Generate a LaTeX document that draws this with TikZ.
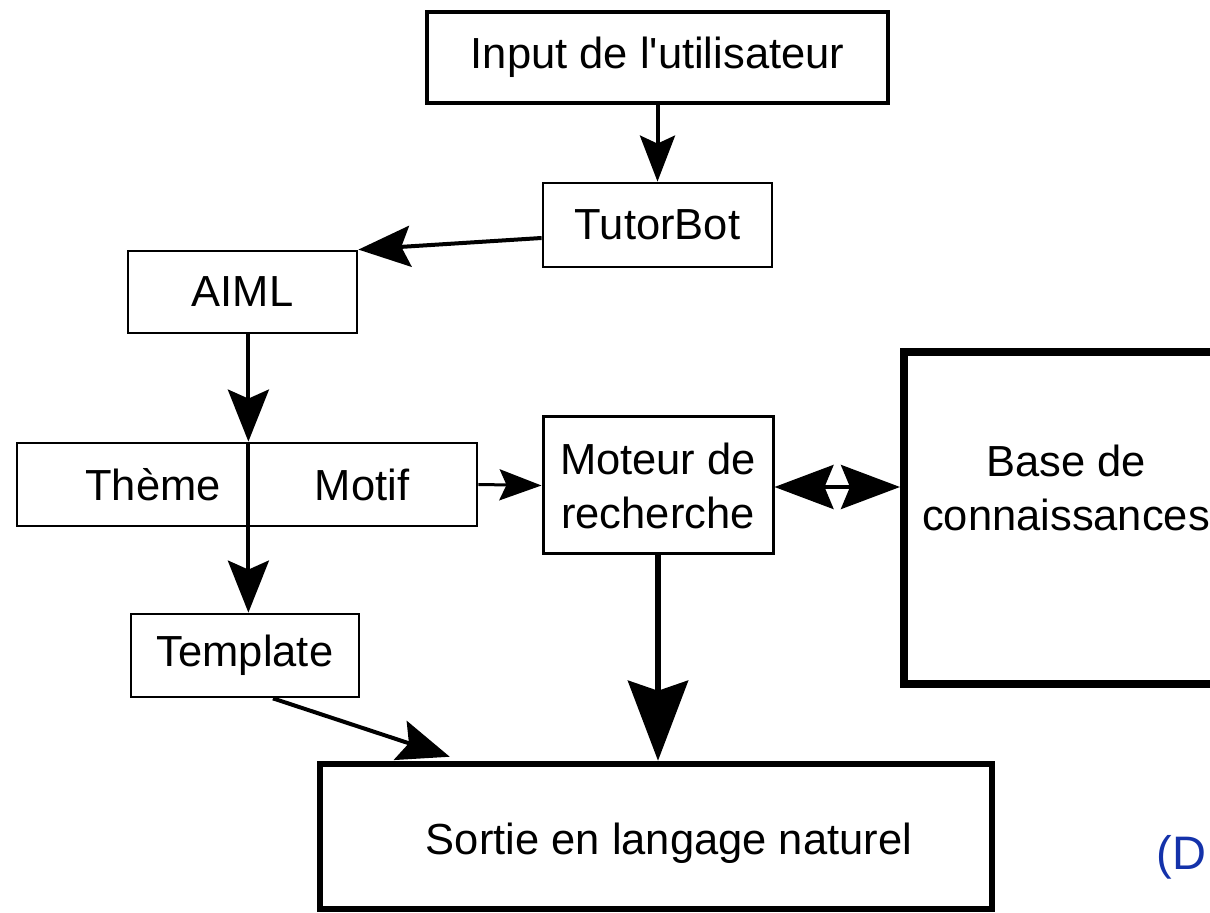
\documentclass[tikz,border=0pt]{standalone}
\usepackage{fontspec}
\setmainfont{Liberation Sans}
\usetikzlibrary{arrows.meta,calc}
\definecolor{refblue}{RGB}{20,50,170}
\begin{document}
\begin{tikzpicture}[x=0.5pt,y=-0.5pt,
  every node/.style={font=\fontsize{21.75pt}{27pt}\selectfont},
  thinbox/.style={draw,rectangle,inner sep=0pt,line width=1.4pt},
  thickbox/.style={draw,rectangle,inner sep=0pt,line width=2.25pt},
  heavybox/.style={draw,rectangle,inner sep=0pt,line width=4pt},
  conn/.style={line width=2pt},
  headS/.style={-{Stealth[length=21pt,width=15.5pt,inset=3.5pt]}},
  headM/.style={-{Stealth[length=23pt,width=17.5pt,inset=4pt]}},
  headL/.style={-{Stealth[length=26pt,width=20.5pt,inset=4.5pt]}},
  headXL/.style={-{Stealth[length=40pt,width=30pt,inset=5pt]}},
  headD/.style={{Stealth[length=29.5pt,width=22pt,inset=4.5pt]}-{Stealth[length=29.5pt,width=22pt,inset=4.5pt]}}
]
\useasboundingbox (0,0) rectangle (1210,913);
\fill[white] (0,0) rectangle (1210,913);
\clip (0,0) rectangle (1210,913);

% boxes
\node[thickbox,minimum width=230.5pt,minimum height=45.5pt] (inp) at (657.5,57.5) {Input de l\textquotesingle utilisateur};
\node[thinbox,minimum width=114.5pt,minimum height=42pt] (tut) at (657.5,225) {TutorBot};
\node[thinbox,minimum width=114.5pt,minimum height=41pt] (aiml) at (242.5,292) {AIML};
\node[thinbox,minimum width=115pt,minimum height=41.5pt,
  label={[xshift=10.5pt]center:Thème}] (theme) at (132,484.5) {};
\node[thinbox,minimum width=115pt,minimum height=41.5pt] (motif) at (362,484.5) {Motif};
\node[thinbox,line width=1.5pt,minimum width=115pt,minimum height=68.5pt,align=center] (mot) at (658,485.5) {Moteur de\\recherche};
\node[heavybox,minimum width=162pt,minimum height=166pt,
  label={[align=center,yshift=15pt]center:Base de\\connaissances}] (base) at (1066,518) {};
\node[thinbox,minimum width=114pt,minimum height=41.5pt] (tmpl) at (245,655.5) {Template};
\node[draw,rectangle,inner sep=0pt,line width=3.25pt,minimum width=336pt,minimum height=72.5pt,
  label={[xshift=6.5pt,yshift=-3.5pt]center:Sortie en langage naturel}] (sortie) at (656,836.5) {};

\node[anchor=base west,inner sep=0pt,text=refblue,font=\fontsize{23.5pt}{28pt}\selectfont] (dlabel) at (1156,869) {(D};

% connectors
\draw[conn,headM] (inp.south) -- (tut.north);
\draw[conn,headL] ([yshift=-6.5pt]tut.west) -- (aiml.north east);
\draw[conn,headL] (aiml.south -| theme.east) -- (theme.north east);
\draw[conn] (theme.north east) -- (theme.south east);
\draw[conn,headL] (theme.south east) -- (theme.south east |- tmpl.north);
\draw[line width=1.5pt,headS] (motif.east) -- (mot.west);
\draw[conn,headD] ([yshift=-0.75pt]mot.east) -- ([yshift=-0.75pt]mot.east -| base.west);
\draw[line width=3pt,headXL] (mot.south) -- (mot.south |- sortie.north);
\draw[conn,headL] ([xshift=14pt]tmpl.south) -- ([xshift=66.5pt,yshift=2pt]sortie.north west);
\end{tikzpicture}
\end{document}
